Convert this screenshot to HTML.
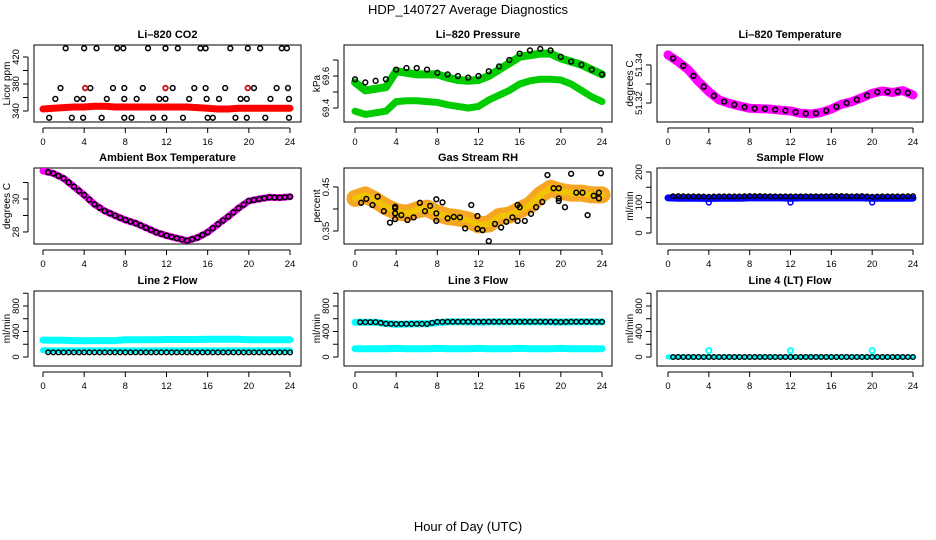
<!DOCTYPE html>
<html><head><meta charset="utf-8">
<style>
html,body{margin:0;padding:0;background:#fff;}
svg{display:block;font-family:"Liberation Sans",sans-serif;}
</style></head>
<body>
<svg id="chart" width="936" height="540" viewBox="0 0 936 540">
<text x="468" y="14" text-anchor="middle" font-size="13">HDP_140727  Average Diagnostics</text>
<text x="468" y="531" text-anchor="middle" font-size="13">Hour of Day (UTC)</text>
</svg>
<script>
// ---- shared hour grid ----
const bandHours = [0,1,2,3,4,5,6,7,8,9,10,11,12,13,14,15,16,17,18,19,20,21,22,23,24];
const xTicks = [0,4,8,12,16,20,24];

// ---- Li-820 CO2 ----
const co2Band = [343,344,345,346,346,347,347,346,346,346,346,346,346,346,346,345,344,343,343,344,344,344,344,344,344];
const co2PtHours = [2.2,4.0,5.2,7.2,7.8,10.2,11.9,13.1,15.3,15.8,18.2,19.9,21.1,23.2,23.7,
  1.7,4.1,4.6,6.8,7.9,9.7,11.9,12.6,14.7,15.8,17.7,19.9,20.5,22.7,23.8,
  1.2,3.3,3.9,6.2,7.9,9.1,11.3,11.9,14.2,15.9,17.1,19.2,19.8,22.1,23.9,
  0.6,2.8,3.9,5.7,7.9,8.6,10.7,11.8,13.6,16.0,16.5,18.7,19.8,21.6,23.9];
const co2PtValues = [433,433,433,433,433,433,433,433,433,433,433,433,433,433,433,
  374,374,374,374,374,374,374,374,374,374,374,374,374,374,374,
  358,358,358,358,358,358,358,358,358,358,358,358,358,358,358,
  330,330,330,330,330,330,330,330,330,330,330,330,330,330,330];
const co2RedHours = [4.1,11.9,19.9];
const co2RedValues = [374,374,374];

// ---- Li-820 Pressure ----
const presUpper = [69.56,69.51,69.52,69.53,69.63,69.62,69.61,69.61,69.61,69.59,69.575,69.57,69.575,69.60,69.64,69.68,69.72,69.73,69.74,69.74,69.71,69.69,69.67,69.64,69.61];
const presLower = [69.38,69.36,69.37,69.38,69.44,69.445,69.445,69.44,69.435,69.42,69.41,69.40,69.41,69.45,69.48,69.51,69.55,69.57,69.58,69.58,69.575,69.55,69.51,69.47,69.44];
const presBlack = [69.58,69.56,69.57,69.58,69.64,69.65,69.65,69.64,69.62,69.61,69.60,69.59,69.60,69.63,69.66,69.70,69.74,69.76,69.77,69.76,69.72,69.69,69.67,69.64,69.61];

// ---- Li-820 Temperature ----
const tempBand = [51.3453,51.3417,51.3374,51.3312,51.326,51.3216,51.3198,51.3184,51.3172,51.317,51.3168,51.3162,51.3158,51.3146,51.3142,51.315,51.3168,51.3193,51.3207,51.3228,51.3251,51.3263,51.3255,51.3265,51.3242];

// ---- Ambient Box Temperature ----
const ambBand = [31.70,31.55,31.25,30.75,30.24,29.68,29.27,28.99,28.73,28.53,28.26,27.98,27.78,27.62,27.47,27.66,27.98,28.47,28.93,29.44,29.88,30.0,30.1,30.08,30.14];

// ---- Gas Stream RH ----
const rhBand = [0.424,0.432,0.420,0.405,0.394,0.390,0.398,0.402,0.390,0.383,0.380,0.375,0.364,0.366,0.383,0.386,0.398,0.409,0.432,0.447,0.440,0.436,0.436,0.432,0.432];
const rhPtHours = [0.6,1.1,1.7,2.2,2.8,3.4,3.9,3.9,3.9,3.9,4.5,5.1,5.7,6.3,6.8,7.3,7.9,7.9,7.9,8.5,9.0,9.6,10.2,10.7,11.3,11.9,11.9,12.4,13.0,13.6,14.2,14.7,15.3,15.8,15.8,16.0,16.5,17.1,17.6,18.2,18.7,19.3,19.8,19.8,19.8,20.4,21.0,21.5,22.1,22.6,23.2,23.7,23.7,23.9];
const rhPtValues = [0.414,0.423,0.409,0.428,0.395,0.369,0.402,0.405,0.390,0.377,0.386,0.375,0.381,0.414,0.395,0.407,0.422,0.390,0.373,0.415,0.379,0.382,0.381,0.356,0.409,0.384,0.355,0.352,0.327,0.366,0.358,0.371,0.381,0.409,0.373,0.404,0.373,0.389,0.404,0.416,0.477,0.447,0.447,0.424,0.418,0.404,0.480,0.437,0.437,0.386,0.430,0.437,0.424,0.481];

// ---- Sample Flow ----
const sampleBand = [115,114,114,114,113,114,114,114,115,115,115,115,114,115,115,115,115,115,115,115,114,114,114,114,114];
const sampleBlack = [120,121,120,120,119,120,120,120,121,121,120,120,120,120,120,120,121,121,120,121,119,120,120,120,121];
const sampleDipHours = [4,12,20];
const sampleDipValues = [100,100,100];

// ---- Line 2 Flow ----
const l2Upper = [265,262,262,258,255,258,258,258,270,272,272,272,275,275,275,275,278,278,280,278,272,272,272,272,272];
const l2Lower = [105,103,103,103,103,103,103,103,103,103,103,103,103,103,103,103,103,103,103,103,103,103,103,103,103];
const l2Black = [75,73,73,73,73,73,73,73,73,73,73,73,73,73,73,73,73,73,73,73,73,73,73,73,73];

// ---- Line 3 Flow ----
const l3Upper = [545,545,545,525,515,518,520,520,540,550,550,550,548,550,550,550,550,550,550,550,548,550,550,550,550];
const l3Lower = [130,130,130,130,135,130,130,130,135,130,130,130,135,130,130,130,135,130,130,130,135,130,130,130,130];
const l3Black = [545,547,547,522,518,520,520,520,550,552,552,552,552,552,552,552,552,552,552,552,548,552,552,552,550];

// ---- Line 4 (LT) Flow ----
const l4Band = [0,0,0,0,0,0,0,0,0,0,0,0,0,0,0,0,0,0,0,0,0,0,0,0,0];
const l4OutHours = [4,12,20];
const l4OutValues = [100,100,100];

const NS = "http://www.w3.org/2000/svg";
const svg = document.getElementById('chart');
function el(tag, attrs, parent){
  const e = document.createElementNS(NS, tag);
  for (const k in attrs) e.setAttribute(k, attrs[k]);
  (parent||svg).appendChild(e);
  return e;
}

const cols = [{L:34,R:301,x0:43,x24:290},{L:344,R:612,x0:355,x24:602},{L:657,R:923,x0:668,x24:913}];
const rows = [{T:45,B:122},{T:168,B:244},{T:291,B:366}];

function makePanel(ci, ri, name, title, ylab, ymin, ymax, ticks, labels){
  const c = cols[ci], r = rows[ri];
  const g = el('g', {});
  
  
  const xs = h => c.x0 + (h/24)*(c.x24-c.x0);
  const ys = v => r.B - (v-ymin)/(ymax-ymin)*(r.B-r.T);
  const t = el('text', {x:(c.L+c.R)/2, y:r.T-7, 'text-anchor':'middle', 'font-size':11, 'font-weight':'bold'}, g);
  t.textContent = title;
  
  
  const box = el('rect', {x:c.L, y:r.T, width:c.R-c.L, height:r.B-r.T, fill:'none', stroke:'#000', 'stroke-width':1}, g);
  
  
  const xa = el('g', {}, g);
  
  
  el('line', {x1:xs(0), x2:xs(24), y1:r.B+6, y2:r.B+6, stroke:'#000'}, xa);
  xTicks.forEach(h => {
    el('line', {x1:xs(h), x2:xs(h), y1:r.B+6, y2:r.B+11, stroke:'#000'}, xa);
    const tl = el('text', {x:xs(h), y:r.B+23, 'text-anchor':'middle', 'font-size':9.5}, xa);
    tl.textContent = h;
  });
  const ya = el('g', {}, g);
  
  
  const ax = c.L - 6;
  el('line', {x1:ax, x2:ax, y1:ys(ticks[0]), y2:ys(ticks[ticks.length-1]), stroke:'#000'}, ya);
  ticks.forEach(v => {
    el('line', {x1:ax-5, x2:ax, y1:ys(v), y2:ys(v), stroke:'#000'}, ya);
  });
  labels.forEach(v => {
    const tl = el('text', {x:0, y:0, 'text-anchor':'middle', 'font-size':9.5, transform:`translate(${ax-9},${ys(v)}) rotate(-90)`}, ya);
    tl.textContent = v;
  });
  const yl = el('text', {x:0, y:0, 'text-anchor':'middle', 'font-size':10, transform:`translate(${c.L-24},${(r.T+r.B)/2}) rotate(-90)`}, g);
  yl.textContent = ylab;
  
  
  const clip = 'clip-' + name;
  const cp = el('clipPath', {id:clip}, g);
  el('rect', {x:c.L, y:r.T, width:c.R-c.L, height:r.B-r.T}, cp);
  const plot = el('g', {'clip-path':`url(#${clip})`}, g);
  return {xs, ys, plot, name};
}

function band(p, hours, vals, color, width, dname){
  const pts = hours.map((h,i)=>p.xs(h).toFixed(1)+','+p.ys(vals[i]).toFixed(1)).join(' ');
  const pl = el('polyline', {points:pts, fill:'none', stroke:color, 'stroke-width':width, 'stroke-linejoin':'round', 'stroke-linecap':'round'}, p.plot);
  
  
  return pl;
}
function circles(p, hours, vals, color, rr, sw, dname){
  const g = el('g', {}, p.plot);
  
  
  hours.forEach((h,i)=>{
    const c = el('circle', {cx:p.xs(h), cy:p.ys(vals[i]), r:rr, fill:'none', stroke:color, 'stroke-width':sw}, g);
    
    
  });
}
function midHours(){ return bandHours.slice(0,24).map(h=>h+0.5); }
function midVals(a){ return a.slice(0,24).map((v,i)=>(v+a[i+1])/2); }

// Panel 1
let p = makePanel(0,0,'co2-panel','Li\u2013820 CO2','Licor ppm',323.7,437.8,[340,360,380,400,420],[340,380,420]);
band(p, bandHours, co2Band, '#ff0000', 7, 'co2-band');
circles(p, co2PtHours, co2PtValues, '#000', 2.4, 1.5, 'co2-points');
circles(p, co2RedHours, co2RedValues, '#ff0000', 2.2, 1.5, 'co2-red-points');

// Panel 2
p = makePanel(1,0,'pressure-panel','Li\u2013820 Pressure','kPa',69.3125,69.794,[69.4,69.5,69.6,69.7],[69.4,69.6]);
band(p, bandHours, presUpper, '#00cc00', 8, 'pressure-upper-band');
band(p, bandHours, presLower, '#00cc00', 7, 'pressure-lower-band');
circles(p, bandHours, presBlack, '#000', 2.4, 1.5, 'pressure-black-points');

// Panel 3
p = makePanel(2,0,'temperature-panel','Li\u2013820 Temperature','degrees C',51.31,51.3505,[51.32,51.33,51.34],[51.32,51.34]);
band(p, bandHours, tempBand, '#ff00ff', 9, 'temperature-band');
circles(p, midHours(), midVals(tempBand), '#000', 2.4, 1.6, 'temperature-black-points');

// Panel 4
p = makePanel(0,1,'ambient-panel','Ambient Box Temperature','degrees C',27.27,31.88,[28,29,30,31],[28,30]);
band(p, bandHours, ambBand, '#ff00ff', 7, 'ambient-band');
circles(p, midHours(), midVals(ambBand), '#000', 2.4, 1.6, 'ambient-black-points');
circles(p, bandHours.slice(1), ambBand.slice(1), '#000', 2.4, 1.6, 'ambient-black-points-2');

// Panel 5
p = makePanel(1,1,'rh-panel','Gas Stream RH','percent',0.3205,0.493,[0.35,0.40,0.45],[0.35,0.45]);
band(p, bandHours, rhBand, '#f5a623', 17, 'rh-band');
band(p, bandHours, rhBand, '#f2c400', 6, 'rh-band-core');
circles(p, rhPtHours, rhPtValues, '#000', 2.4, 1.5, 'rh-black-points');

// Panel 6
p = makePanel(2,1,'sample-flow-panel','Sample Flow','ml/min',-36,213,[0,50,100,150,200],[0,100,200]);
band(p, bandHours, sampleBand, '#0000ff', 7, 'sample-band');
circles(p, sampleDipHours, sampleDipValues, '#0000ff', 2.4, 1.5, 'sample-dip-points');
circles(p, midHours(), midVals(sampleBlack), '#000', 2.3, 1.4, 'sample-black-points');
circles(p, bandHours.slice(1), sampleBlack.slice(1), '#000', 2.3, 1.4, 'sample-black-points-2');

// Panel 7
p = makePanel(0,2,'line2-panel','Line 2 Flow','ml/min',-141,1035,[0,200,400,600,800,1000],[0,400,800]);
band(p, bandHours, l2Upper, '#00ffff', 7, 'line2-upper-band');
band(p, bandHours, l2Lower, '#00ffff', 6, 'line2-lower-band');
circles(p, midHours(), midVals(l2Black), '#000', 2.3, 1.4, 'line2-black-points');
circles(p, bandHours.slice(1), l2Black.slice(1), '#000', 2.3, 1.4, 'line2-black-points-2');

// Panel 8
p = makePanel(1,2,'line3-panel','Line 3 Flow','ml/min',-141,1035,[0,200,400,600,800,1000],[0,400,800]);
band(p, bandHours, l3Upper, '#00ffff', 7, 'line3-upper-band');
band(p, bandHours, l3Lower, '#00ffff', 7, 'line3-lower-band');
circles(p, midHours(), midVals(l3Black), '#000', 2.3, 1.4, 'line3-black-points');
circles(p, bandHours.slice(1), l3Black.slice(1), '#000', 2.3, 1.4, 'line3-black-points-2');

// Panel 9
p = makePanel(2,2,'line4-panel','Line 4 (LT) Flow','ml/min',-141,1035,[0,200,400,600,800,1000],[0,400,800]);
band(p, bandHours, l4Band, '#00ffff', 5, 'line4-band');
circles(p, l4OutHours, l4OutValues, '#00ffff', 2.6, 1.8, 'line4-outlier-points');
circles(p, midHours(), midVals(l4Band), '#000', 2.3, 1.4, 'line4-black-points');
circles(p, bandHours.slice(1), l4Band.slice(1), '#000', 2.3, 1.4, 'line4-black-points-2');
</script>
</body></html>
